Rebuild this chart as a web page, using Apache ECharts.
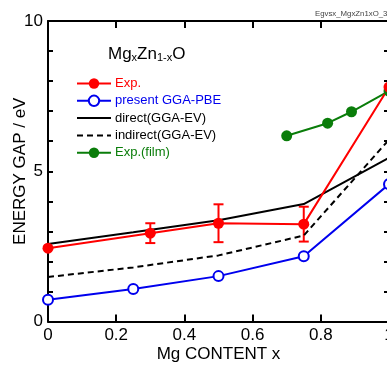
<!DOCTYPE html>
<html>
<head>
<meta charset="utf-8">
<script src="https://cdn.jsdelivr.net/npm/echarts/dist/echarts.min.js"></script>
<style>
  html, body { margin: 0; padding: 0; background: #fff; }
  #chart { width: 387px; height: 365px; }
</style>
</head>
<body>
<div id="chart"></div>
<script>
// calculated band gaps (GGA)
var xCalc = [0, 0.25, 0.5, 0.75, 1];
var directEV = [2.58, 2.97, 3.37, 3.91, 5.45];
var indirectEV = [1.48, 1.80, 2.20, 2.86, 6.05];
var ggaPBE = [0.72, 1.08, 1.51, 2.17, 4.57];
// experiment (bulk) with error
var xExp = [0, 0.3, 0.5, 0.75, 1];
var expGap = [2.44, 2.94, 3.27, 3.24, 7.8];
var expErr = [0, 0.33, 0.63, 0.58, 0];
// experiment (film)
var xFilm = [0.7, 0.82, 0.89, 1];
var filmGap = [6.18, 6.6, 6.98, 7.67];

var yLabels = [0, 5, 10];

var RED = '#ff0000', BLUE = '#0000ee', GREEN = '#0a7d0a', BLACK = '#000';
var FONT = 'Liberation Sans, Arial, sans-serif';

function pairs(xs, ys) {
  return xs.map(function (x, i) { return [x, ys[i]]; });
}

var errData = [];
xExp.forEach(function (x, i) {
  if (expErr[i] > 0) errData.push([x, expGap[i] - expErr[i], expGap[i] + expErr[i]]);
});

var myChart = echarts.init(document.getElementById('chart'));

var axisLine = { show: true, onZero: false, lineStyle: { color: BLACK, width: 2 } };
// legend icon with line only (no marker)
var noMarker = { color: 'rgba(0,0,0,0)', borderWidth: 0, opacity: 0 };

var option = {
  animation: false,
  backgroundColor: '#fff',
  textStyle: { fontFamily: FONT },
  grid: {
    left: 48,
    top: 21,
    width: 341,
    height: 300.5,
    outerBoundsMode: 'none',
    containLabel: false
  },
  title: {
    text: '{n|Mg}{s|x}{n|Zn}{s|1-x}{n|O}',
    left: 108,
    top: 42,
    padding: 0,
    textStyle: {
      fontWeight: 'normal',
      rich: {
        n: { fontSize: 17, lineHeight: 21, verticalAlign: 'bottom', color: BLACK, fontFamily: FONT, fontWeight: 'normal' },
        s: { fontSize: 11, lineHeight: 11, verticalAlign: 'bottom', color: BLACK, fontFamily: FONT, fontWeight: 'normal' }
      }
    }
  },
  graphic: [
    {
      type: 'text',
      left: 315,
      top: 10,
      style: { text: 'Egvsx_MgxZn1xO_3', fontSize: 7.8, fill: '#444', fontFamily: FONT }
    }
  ],
  legend: {
    orient: 'vertical',
    left: 76,
    top: 77,
    padding: 0,
    itemWidth: 34,
    itemHeight: 13,
    itemGap: 4.3,
    textStyle: { fontSize: 13, lineHeight: 13, fontFamily: FONT, padding: [0, 0, 0, -1] },
    data: [
      { name: 'Exp.', textStyle: { color: RED } },
      { name: 'present GGA-PBE', textStyle: { color: BLUE } },
      { name: 'direct(GGA-EV)', textStyle: { color: BLACK }, itemStyle: noMarker },
      { name: 'indirect(GGA-EV)', textStyle: { color: BLACK }, itemStyle: noMarker },
      { name: 'Exp.(film)', textStyle: { color: GREEN } }
    ]
  },
  xAxis: [
    {
      type: 'value',
      position: 'bottom',
      min: 0,
      max: 1,
      interval: 0.2,
      name: 'Mg CONTENT x',
      nameLocation: 'middle',
      nameGap: 24,
      nameMoveOverlap: false,
      nameTextStyle: { fontSize: 17, color: BLACK, fontFamily: FONT },
      axisLine: axisLine,
      axisTick: { inside: true, length: 7, lineStyle: { color: BLACK, width: 2 } },
      axisLabel: { fontSize: 17, color: BLACK, margin: 5, fontFamily: FONT },
      splitLine: { show: false }
    },
    {
      type: 'value',
      position: 'top',
      min: 0,
      max: 1,
      interval: 0.2,
      axisLine: axisLine,
      axisTick: { inside: true, length: 7, lineStyle: { color: BLACK, width: 2 } },
      axisLabel: { show: false },
      splitLine: { show: false }
    }
  ],
  yAxis: [
    {
      type: 'value',
      position: 'left',
      min: 0,
      max: 10,
      interval: 1,
      name: 'ENERGY GAP / eV',
      nameLocation: 'middle',
      nameRotate: 90,
      nameGap: 19,
      nameMoveOverlap: false,
      nameTextStyle: { fontSize: 17, color: BLACK, fontFamily: FONT },
      axisLine: axisLine,
      axisTick: { inside: true, length: 5, lineStyle: { color: BLACK, width: 2 } },
      axisLabel: {
        fontSize: 17,
        color: BLACK,
        margin: 5,
        fontFamily: FONT,
        formatter: function (v) { return yLabels.indexOf(v) >= 0 ? String(v) : ''; }
      },
      splitLine: { show: false }
    },
    {
      type: 'value',
      position: 'right',
      min: 0,
      max: 10,
      interval: 1,
      axisLine: axisLine,
      axisTick: { inside: true, length: 5, lineStyle: { color: BLACK, width: 2 } },
      axisLabel: { show: false },
      splitLine: { show: false }
    }
  ],
  series: [
    {
      name: 'indirect(GGA-EV)',
      type: 'line',
      data: pairs(xCalc, indirectEV),
      symbol: 'none',
      lineStyle: { color: BLACK, width: 2, type: [6, 4] },
      itemStyle: { color: BLACK }
    },
    {
      name: 'direct(GGA-EV)',
      type: 'line',
      data: pairs(xCalc, directEV),
      symbol: 'none',
      lineStyle: { color: BLACK, width: 2 },
      itemStyle: { color: BLACK }
    },
    {
      name: 'present GGA-PBE',
      type: 'line',
      data: pairs(xCalc, ggaPBE),
      symbol: 'emptyCircle',
      symbolSize: 10,
      lineStyle: { color: BLUE, width: 2 },
      itemStyle: { color: BLUE, borderWidth: 1.5 }
    },
    {
      name: 'Exp.(film)',
      type: 'line',
      data: pairs(xFilm, filmGap),
      symbol: 'circle',
      symbolSize: 11,
      lineStyle: { color: GREEN, width: 2 },
      itemStyle: { color: GREEN }
    },
    {
      name: 'err',
      type: 'custom',
      data: errData,
      encode: { x: 0, y: [1, 2] },
      renderItem: function (params, api) {
        var x = api.value(0);
        var lo = api.coord([x, api.value(1)]);
        var hi = api.coord([x, api.value(2)]);
        var w = 5;
        var st = { stroke: RED, lineWidth: 2 };
        return {
          type: 'group',
          children: [
            { type: 'line', shape: { x1: lo[0], y1: lo[1], x2: hi[0], y2: hi[1] }, style: st },
            { type: 'line', shape: { x1: lo[0] - w, y1: lo[1], x2: lo[0] + w, y2: lo[1] }, style: st },
            { type: 'line', shape: { x1: hi[0] - w, y1: hi[1], x2: hi[0] + w, y2: hi[1] }, style: st }
          ]
        };
      }
    },
    {
      name: 'Exp.',
      type: 'line',
      data: pairs(xExp, expGap),
      symbol: 'circle',
      symbolSize: 11,
      lineStyle: { color: RED, width: 2 },
      itemStyle: { color: RED }
    }
  ]
};

myChart.setOption(option);
</script>
</body>
</html>
